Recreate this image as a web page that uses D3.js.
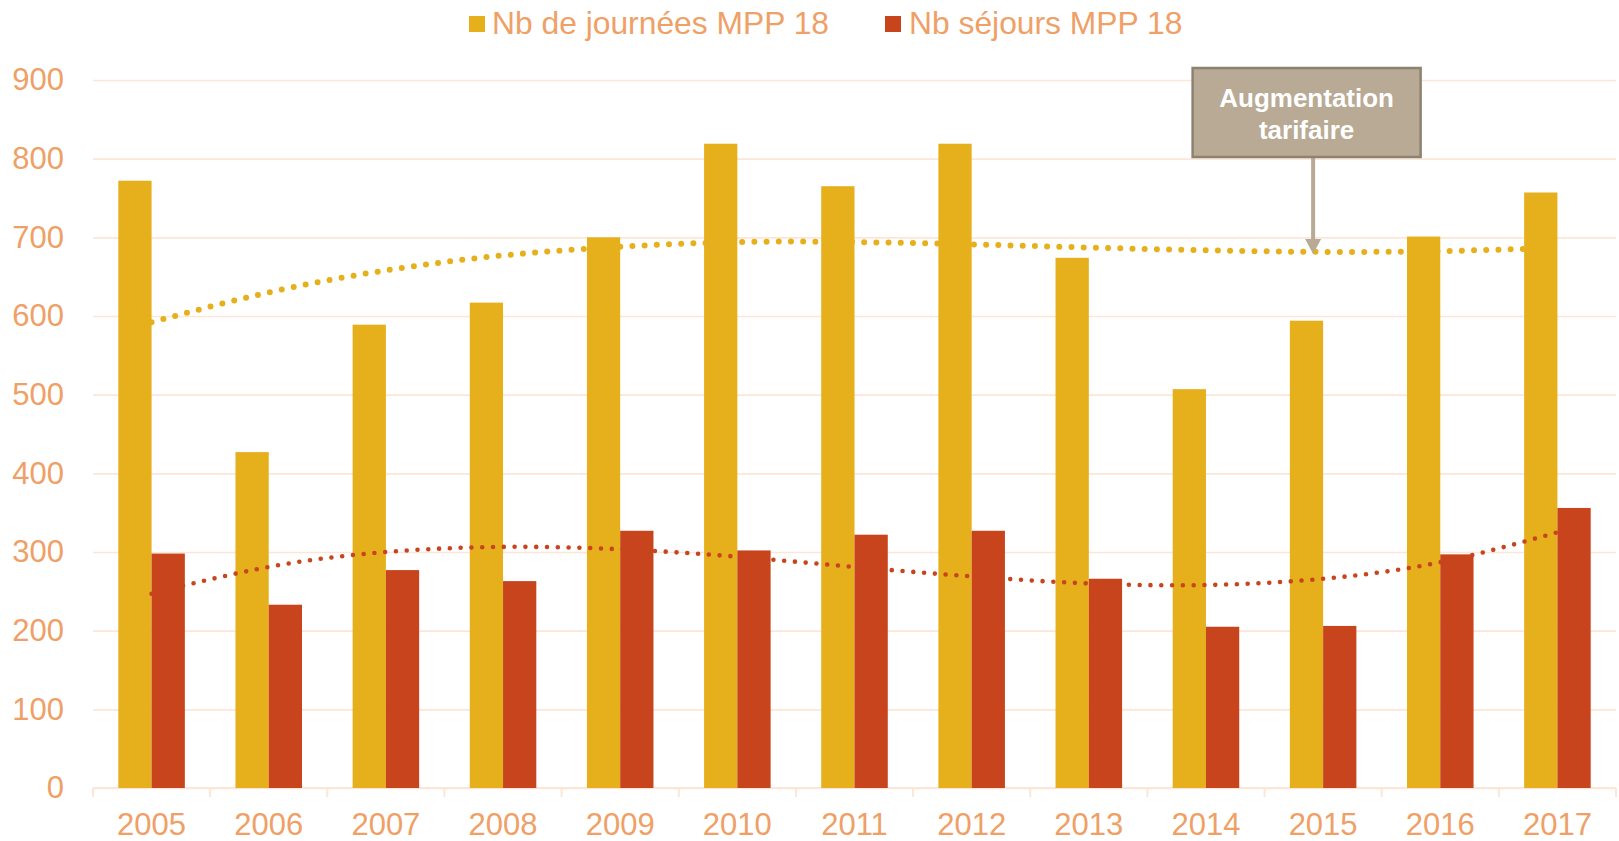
<!DOCTYPE html>
<html>
<head>
<meta charset="utf-8">
<script src="https://cdn.jsdelivr.net/npm/d3@7"></script>
<style>
  html, body { margin: 0; padding: 0; background: #ffffff; }
  svg { display: block; font-family: "Liberation Sans", Arial, sans-serif; }
</style>
</head>
<body>
<svg id="chart" width="1619" height="841"></svg>
<script>
// ---- data ----
const years = ["2005","2006","2007","2008","2009","2010","2011","2012","2013","2014","2015","2016","2017"];
const seriesNames = ["Nb de journées MPP 18", "Nb séjours MPP 18"];
const journees = [772, 427, 589, 617, 700, 819, 765, 819, 674, 507, 594, 701, 757];
const sejours  = [298, 233, 277, 263, 327, 302, 322, 327, 266, 205, 206, 297, 356];
// trend lines (polynomial trend)
const trendJournees = [592, 630, 658, 677, 688, 694, 694, 691, 687, 683.5, 681.5, 682.5, 686.5];
const trendSejours  = [247, 281, 300, 306.5, 303.5, 294, 281, 269, 260, 258, 266, 287, 325];
const yTicks = [0, 100, 200, 300, 400, 500, 600, 700, 800, 900];
const annotationLines = ["Augmentation", "tarifaire"];
const annotationYear = "2015";

// ---- styles ----
const colJ = "#E6AF1C";
const colS = "#C8441D";
const textCol = "#EFA066";
const gridCol = "#FBE6D8";
const fontSize = 31;

const svg = d3.select("#chart");
const plotLeft = 93, plotRight = 1616, plotTop = 80, plotBottom = 788;

const x = d3.scaleBand().domain(years).range([plotLeft, plotRight]).padding(0);
const bw = x.bandwidth();
const x1 = d3.scaleBand().domain(seriesNames).range([bw * 0.216, bw * 0.784]).padding(0);
const y = d3.scaleLinear().domain([0, 900]).range([plotBottom, plotTop]);

// gridlines + y labels
const yAxis = d3.axisLeft(y).tickValues(yTicks).tickSize(-(plotRight - plotLeft)).tickPadding(29).tickFormat(d3.format("d"));
const gy = svg.append("g").attr("transform", `translate(${plotLeft},0)`).call(yAxis);
gy.select(".domain").remove();
gy.selectAll(".tick line").attr("stroke", gridCol).attr("stroke-width", 1.6);
gy.selectAll(".tick text").attr("fill", textCol).attr("font-size", fontSize)
  .attr("font-family", "Liberation Sans, Arial, sans-serif");

// x axis line + boundary ticks
svg.append("line").attr("x1", plotLeft).attr("x2", plotRight).attr("y1", plotBottom).attr("y2", plotBottom)
  .attr("stroke", gridCol).attr("stroke-width", 2);
const bounds = years.map(d => x(d)).concat([x(years[years.length - 1]) + bw]);
svg.append("g").selectAll("line").data(bounds).join("line")
  .attr("x1", d => d).attr("x2", d => d).attr("y1", plotBottom).attr("y2", plotBottom + 9)
  .attr("stroke", gridCol).attr("stroke-width", 2);

// x labels
const xAxis = d3.axisBottom(x).tickSize(0).tickPadding(24.5);
const gx = svg.append("g").attr("transform", `translate(0,${plotBottom})`).call(xAxis);
gx.select(".domain").remove();
gx.selectAll(".tick text").attr("fill", textCol).attr("font-size", fontSize)
  .attr("font-family", "Liberation Sans, Arial, sans-serif");

// bars
const rows = years.map((yr, i) => ({ year: yr, values: [journees[i], sejours[i]] }));
const colors = [colJ, colS];
const groups = svg.append("g").selectAll("g").data(rows).join("g")
  .attr("transform", d => `translate(${x(d.year)},0)`);
groups.selectAll("rect").data(d => d.values.map((v, k) => ({ v, k })))
  .join("rect")
  .attr("x", d => x1(seriesNames[d.k]))
  .attr("width", x1.bandwidth())
  .attr("y", d => y(d.v))
  .attr("height", d => y(0) - y(d.v))
  .attr("fill", d => colors[d.k]);

// trend lines (dotted)
const line = d3.line().x((d, i) => x(years[i]) + bw / 2).y(d => y(d)).curve(d3.curveNatural);
svg.append("path").attr("d", line(trendJournees)).attr("fill", "none")
  .attr("stroke", colJ).attr("stroke-width", 6).attr("stroke-linecap", "round")
  .attr("stroke-dasharray", "0 12.2");
svg.append("path").attr("d", line(trendSejours)).attr("fill", "none")
  .attr("stroke", colS).attr("stroke-width", 4.6).attr("stroke-linecap", "round")
  .attr("stroke-dasharray", "0 10.8");

// legend
const legend = svg.append("g");
const legItems = [
  { name: seriesNames[0], color: colJ, sx: 469, tx: 492 },
  { name: seriesNames[1], color: colS, sx: 885, tx: 909 }
];
legItems.forEach(it => {
  legend.append("rect").attr("x", it.sx).attr("y", 16).attr("width", 16).attr("height", 16).attr("fill", it.color);
  legend.append("text").attr("x", it.tx).attr("y", 33.5).attr("fill", textCol)
    .attr("font-size", 31.8).text(it.name);
});

// annotation
const ax = x(annotationYear) + bw / 2 - 10;
const boxW = 228, boxH = 89, boxTop = 68;
const boxCx = ax - 6.5;
const ann = svg.append("g");
ann.append("line").attr("x1", ax).attr("x2", ax).attr("y1", boxTop + boxH).attr("y2", 241)
  .attr("stroke", "#B8AA94").attr("stroke-width", 4);
ann.append("path").attr("d", `M${ax - 8},239 L${ax + 8},239 L${ax},254 Z`).attr("fill", "#B8AA94");
ann.append("rect").attr("x", boxCx - boxW / 2).attr("y", boxTop).attr("width", boxW).attr("height", boxH)
  .attr("fill", "#B8AA94").attr("stroke", "#8D8270").attr("stroke-width", 2.5);
ann.selectAll("text").data(annotationLines).join("text")
  .attr("x", boxCx).attr("y", (d, i) => 106.5 + i * 32)
  .attr("text-anchor", "middle").attr("fill", "#ffffff").attr("font-weight", "bold")
  .attr("font-size", 26).text(d => d);
</script>
</body>
</html>
